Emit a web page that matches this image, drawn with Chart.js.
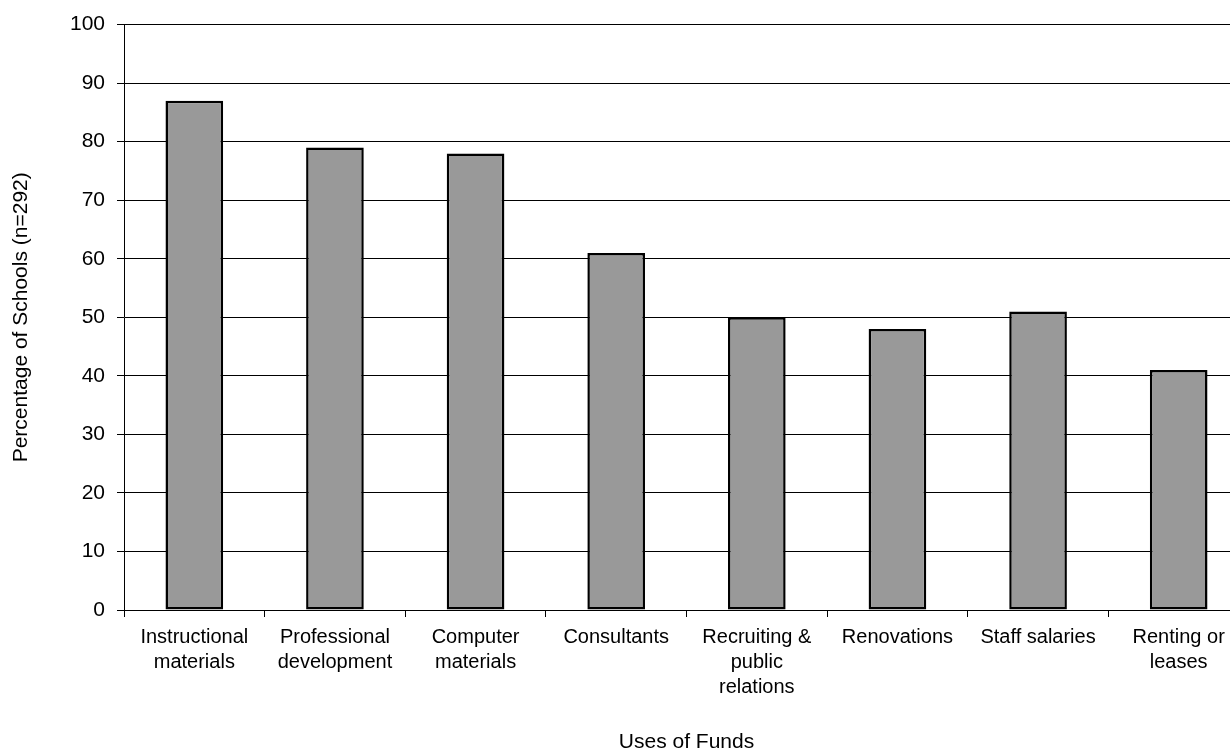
<!DOCTYPE html>
<html>
<head>
<meta charset="utf-8">
<script src="https://cdn.jsdelivr.net/npm/chart.js@4/dist/chart.umd.min.js"></script>
<style>
  html, body { margin: 0; padding: 0; background: #fff; overflow: hidden; }
  #wrap { width: 1250px; height: 755px; }
</style>
</head>
<body>
<div id="wrap"><canvas id="barChart" width="1250" height="755"></canvas></div>
<script>
// uses of funds, percentage of schools
const categories = [
  ["Instructional", "materials"],
  ["Professional", "development"],
  ["Computer", "materials"],
  "Consultants",
  ["Recruiting &", "public", "relations"],
  "Renovations",
  "Staff salaries",
  ["Renting or", "leases"]
];
const percentages = [87, 79, 78, 61, 50, 48, 51, 41];
const yTicks = [0, 10, 20, 30, 40, 50, 60, 70, 80, 90, 100];

const font = "'Liberation Sans', Arial, sans-serif";

var ctx = document.getElementById("barChart").getContext('2d');
new Chart(ctx, {
  type: 'bar',
  data: {
    labels: categories,
    datasets: [
      {
        data: percentages,
        backgroundColor: "#999999",
        borderColor: "#000000",
        borderWidth: 2.5,
        borderSkipped: false,
        categoryPercentage: 1,
        barPercentage: 0.41
      }
    ]
  },
  options: {
    responsive: false,
    animation: false,
    devicePixelRatio: 1,
    layout: { padding: { left: 0, right: 1, top: 3, bottom: 0 } },
    plugins: {
      legend: { display: false },
      tooltip: { enabled: false }
    },
    scales: {
      x: {
        grid: {
          offset: true,
          drawOnChartArea: false,
          drawTicks: true,
          tickLength: 7,
          color: "#000000"
        },
        border: { display: true, color: "#000000", width: 1 },
        ticks: {
          color: "#000000",
          font: { family: font, size: 20, lineHeight: 1.25 },
          padding: 8,
          maxRotation: 0,
          autoSkip: false
        },
        title: {
          display: true,
          text: "Uses of Funds",
          color: "#000000",
          font: { family: font, size: 21 },
          padding: { top: 0, bottom: 0 }
        },
        afterFit: function(scale) { scale.height = 145; }
      },
      y: {
        min: 0,
        max: 100,
        afterBuildTicks: function(scale) {
          scale.ticks = yTicks.map(v => ({ value: v }));
        },
        grid: {
          color: "#000000",
          lineWidth: 1,
          tickLength: 7
        },
        border: { display: true, color: "#000000", width: 1 },
        ticks: {
          color: "#000000",
          font: { family: font, size: 21 },
          padding: 12
        },
        title: {
          display: true,
          text: "Percentage of Schools (n=292)",
          color: "#000000",
          font: { family: font, size: 21 },
          padding: { top: 9, bottom: 0 }
        },
        afterFit: function(scale) { scale.width = 124; }
      }
    }
  }
});
</script>
</body>
</html>
